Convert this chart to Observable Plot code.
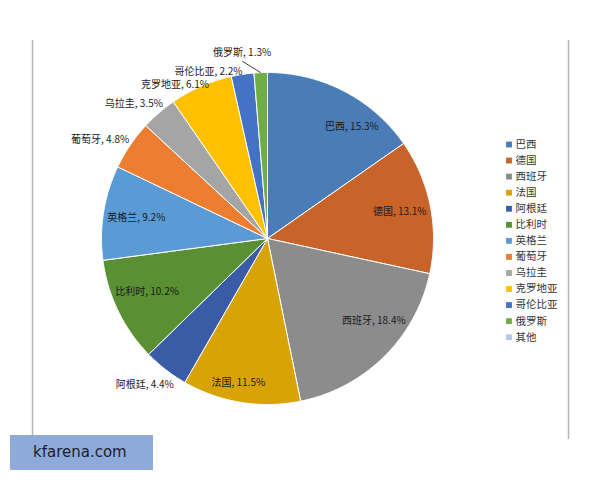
<!DOCTYPE html>
<html>
<head>
<meta charset="utf-8">
<script src="https://cdn.jsdelivr.net/npm/d3@7"></script>
<script src="https://cdn.jsdelivr.net/npm/@observablehq/plot@0.6"></script>
<style>
  html, body { margin: 0; padding: 0; background: #fff; }
  #wrap { position: relative; width: 600px; height: 480px; }
  #mark { position: absolute; left: 10px; top: 435px; width: 143px; height: 35px;
          background: #8eaadb; font-family: "DejaVu Sans", sans-serif; font-size: 15px;
          color: #1c1c30; line-height: 35px; box-sizing: border-box; padding-left: 23px; }
</style>
</head>
<body>
<div id="wrap"><div id="mark">kfarena.com</div></div>
<script>
// ---- data ----
const countries = ["巴西","德国","西班牙","法国","阿根廷","比利时","英格兰","葡萄牙","乌拉圭","克罗地亚","哥伦比亚","俄罗斯","其他"];
const shares    = [15.3, 13.1, 18.4, 11.5, 4.4, 10.2, 9.2, 4.8, 3.5, 6.1, 2.2, 1.3, 0];
const palette   = ["#4a7db7","#c8632a","#8c8c8c","#d8a307","#3a5ca6","#5b8f33","#5b9bd5","#ed7d31","#a5a5a5","#ffc000","#4472c4","#70ad47","#b4c7e7"];

// ---- layout (pixels) ----
const W = 600, H = 480, CX = 267, CY = 238, R = 166;
const ux = p => (p - CX) / R;
const uy = p => (CY - p) / R;
// label placement tweaks (pixels, +y down), inside labels at 0.8R, outside at 1.0R
const labelNudge = {
  "巴西":[23,6.5],"德国":[2,-1],"西班牙":[13,-12],"法国":[-8,13],"比利时":[-1,-5],"英格兰":[0,0],
  "阿根廷":[8,15],"葡萄牙":[-1,-5],"乌拉圭":[4,-9],"克罗地亚":[8,-2],"哥伦比亚":[0,-3],"俄罗斯":[10.5,-19.4]
};

const total = d3.sum(shares);
const slices = [];
let acc = 0;
countries.forEach((name, i) => {
  const v = shares[i];
  const a0 = acc / total * 2 * Math.PI;
  acc += v;
  const a1 = acc / total * 2 * Math.PI;
  if (v > 0) slices.push({name, v, a0, a1, mid: (a0 + a1) / 2});
});

// polygon points per slice
const pts = [];
for (const s of slices) {
  pts.push({name: s.name, x: 0, y: 0});
  const n = Math.max(2, Math.ceil((s.a1 - s.a0) / (Math.PI / 360)));
  for (let k = 0; k <= n; k++) {
    const a = s.a0 + (s.a1 - s.a0) * k / n;
    pts.push({name: s.name, x: Math.sin(a), y: Math.cos(a)});
  }
  pts.push({name: s.name, x: 0, y: 0});
}

// labels
const labels = slices.map(s => {
  const inside = s.v >= 9;
  const r = inside ? 0.8 : 1.0;
  const [nx, ny] = labelNudge[s.name] || [0, 0];
  return {
    name: s.name,
    text: `${s.name}, ${s.v}%`,
    anchor: inside ? "middle" : "end",
    x: r * Math.sin(s.mid) + nx / R,
    y: r * Math.cos(s.mid) - ny / R,
    ex: Math.sin(s.mid), ey: Math.cos(s.mid)
  };
});
const leader = labels.filter(l => l.name === "俄罗斯").map(l => ({
  x1: l.ex, y1: l.ey, x2: l.x - 29 / R, y2: l.y - 8 / R
}));

// legend rows
const legend = countries.map((name, i) => ({name, x: ux(508.5), tx: ux(515), y: uy(144 + i * 16.06)}));

const plot = Plot.plot({
  width: W, height: H,
  margin: 0,
  style: {background: "transparent", fontFamily: "'Noto Sans CJK SC', sans-serif"},
  x: {domain: [ux(0), ux(W)], range: [0, W], axis: null},
  y: {domain: [uy(H), uy(0)], range: [H, 0], axis: null},
  color: {domain: countries, range: palette},
  marks: [
    Plot.ruleX([ux(32), ux(568)], {y1: uy(40), y2: uy(439), stroke: "#b3b3b3", strokeWidth: 1.5}),
    Plot.line(pts, {x: "x", y: "y", z: "name", fill: "name", stroke: "white", strokeWidth: 1, strokeLinejoin: "round"}),
    Plot.link(leader, {x1: "x1", y1: "y1", x2: "x2", y2: "y2", stroke: "#404040", strokeWidth: 1}),
    Plot.text(labels.filter(l => l.anchor === "middle"), {x: "x", y: "y", text: "text", textAnchor: "middle", fontSize: 10, fill: "#1a1a1a"}),
    Plot.text(labels.filter(l => l.anchor === "end"), {x: "x", y: "y", text: "text", textAnchor: "end", fontSize: 10, fill: "#1a1a1a"}),
    Plot.dot(legend, {x: "x", y: "y", fill: "name", symbol: "square", r: 3.3, stroke: null}),
    Plot.text(legend, {x: "tx", y: "y", text: "name", textAnchor: "start", fontSize: 10.5, fill: "#333"})
  ]
});
document.getElementById("wrap").insertBefore(plot, document.getElementById("mark"));
</script>
</body>
</html>
